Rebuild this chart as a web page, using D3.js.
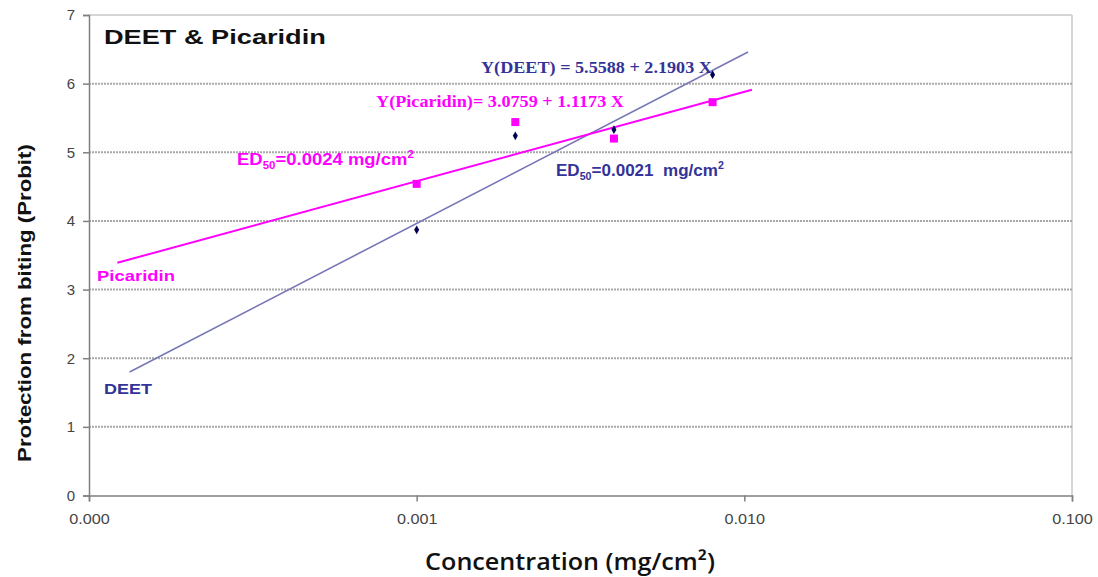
<!DOCTYPE html>
<html><head><meta charset="utf-8">
<script src="https://cdn.jsdelivr.net/npm/d3@7"></script>
<style>body{margin:0;background:#fff;} svg{display:block;}</style>
</head><body>
<svg id="c" width="1098" height="577"></svg>
<script>
// Data
const concentrations = [0.001, 0.002, 0.004, 0.008];
const deetValues = [3.87, 5.24, 5.33, 6.13];
const picaridinValues = [4.54, 5.44, 5.20, 5.73];
// fitted lines endpoints as drawn in the chart [conc, probit]
const deetFit = [[0.000133, 1.80], [0.01026, 6.46]];
const picaridinFit = [[0.000122, 3.39], [0.01055, 5.91]];
const xTicks = [0.0001, 0.001, 0.01, 0.1];
const xTickLabels = ["0.000", "0.001", "0.010", "0.100"];
const yTicks = [0, 1, 2, 3, 4, 5, 6, 7];

const svg = d3.select("#c");
const L = 89, R = 1072, T = 15, B = 495.5;
const x = d3.scaleLog().domain([0.0001, 0.1]).range([L, R]);
const y = d3.scaleLinear().domain([0, 7]).range([B, T]);

const MAG = "#ff00ff", NAVY = "#333399", DEETLINE = "#7777b8";

// border top/right
svg.append("line").attr("x1", L).attr("x2", R).attr("y1", T).attr("y2", T).attr("stroke", "#c8c8c8").attr("stroke-width", 1.5);
svg.append("line").attr("x1", R).attr("x2", R).attr("y1", T).attr("y2", B).attr("stroke", "#c8c8c8").attr("stroke-width", 1.5);

// gridlines
svg.append("g").selectAll("line").data(yTicks.filter(d => d > 0 && d < 7)).join("line")
  .attr("x1", L).attr("x2", R).attr("y1", d => y(d)).attr("y2", d => y(d))
  .attr("stroke", "#a8a8a8").attr("stroke-width", 2).attr("stroke-dasharray", "2,1");

// axes
const yAxis = d3.axisLeft(y).tickValues(yTicks).tickFormat(d3.format("d")).tickSize(6).tickPadding(8);
const gy = svg.append("g").attr("transform", `translate(${L},0)`).call(yAxis);
const xAxis = d3.axisBottom(x).tickValues(xTicks).tickFormat((d, i) => xTickLabels[i]).tickSize(6).tickPadding(12);
const gx = svg.append("g").attr("transform", `translate(0,${B})`).call(xAxis);
[gx, gy].forEach(g => {
  g.select(".domain").attr("stroke", "#808080").attr("stroke-width", 1.5);
  g.selectAll(".tick line").attr("stroke", "#808080").attr("stroke-width", 1.5);
  g.selectAll(".tick text").attr("fill", "#444").style("font-family", "Liberation Sans, Arial, sans-serif").style("font-size", "15px");
});
gx.selectAll(".tick text").attr("transform", "scale(1.08,1)");

// fit lines
const line = d3.line().x(d => x(d[0])).y(d => y(d[1]));
svg.append("path").attr("d", line(deetFit)).attr("stroke", DEETLINE).attr("stroke-width", 1.6).attr("fill", "none");
svg.append("path").attr("d", line(picaridinFit)).attr("stroke", MAG).attr("stroke-width", 2).attr("fill", "none");

// markers
svg.append("g").selectAll("rect").data(concentrations).join("rect")
  .attr("x", (d) => x(d) - 4).attr("y", (d, i) => y(picaridinValues[i]) - 4)
  .attr("width", 8).attr("height", 8).attr("fill", MAG);
svg.append("g").selectAll("path").data(concentrations).join("path")
  .attr("d", d3.symbol().type(d3.symbolDiamond).size(22))
  .attr("transform", (d, i) => `translate(${x(d)},${y(deetValues[i])})`)
  .attr("fill", "#000055");

// texts: horizontally stretched to the reference's widths
const sans = "Liberation Sans, Arial, sans-serif";
const serif = "Liberation Serif, Times New Roman, serif";
function stretched(xp, yp, width, rot) {
  const g = svg.append("g");
  const t = g.append("text");
  return {g, t, fit() {
    const w = t.node().getComputedTextLength();
    const s = width / w;
    g.attr("transform", rot ? `translate(${xp},${yp}) rotate(-90) scale(${s},1)` : `translate(${xp},${yp}) scale(${s},1)`);
    return t;
  }};
}
function label(xp, yp, width, str, font, size, weight, color, rot, anchor) {
  const o = stretched(xp, yp, width, rot);
  o.t.text(str).style("font-family", font).style("font-size", size + "px").style("font-weight", weight)
    .attr("fill", color).attr("text-anchor", anchor || "start");
  o.fit();
}
label(104, 44, 222, "DEET & Picaridin", sans, 21, "bold", "#111");
label(481, 73, 231, "Y(DEET) = 5.5588 + 2.1903 X", serif, 17, "bold", NAVY);
label(376, 107, 248, "Y(Picaridin)= 3.0759 + 1.1173 X", serif, 17, "bold", MAG);

function ed(xp, yp, width, val, gap, color) {
  const o = stretched(xp, yp, width);
  const t = o.t.attr("fill", color).style("font-family", sans).style("font-weight", "bold").style("font-size", "16px");
  t.append("tspan").text("ED");
  t.append("tspan").text("50").attr("dy", 4).style("font-size", "10px");
  t.append("tspan").text("=" + val + gap + "mg/cm").attr("dy", -4);
  t.append("tspan").text("2").attr("dy", -7).style("font-size", "10px");
  o.fit();
}
ed(237, 165, 177, "0.0024", " ", MAG);
ed(556, 176, 168, "0.0021", "\u00a0\u00a0", NAVY);

label(97, 281, 78, "Picaridin", sans, 15, "bold", MAG);
label(104, 394, 48, "DEET", sans, 15, "bold", NAVY);

// axis titles
label(31, 303, 318, "Protection from biting (Probit)", sans, 19, "bold", "#111", true, "middle");
label(570, 570, 290, "Concentration (mg/cm²)", "Open Sans, sans-serif", 24, "600", "#111", false, "middle");
</script>
</body></html>
